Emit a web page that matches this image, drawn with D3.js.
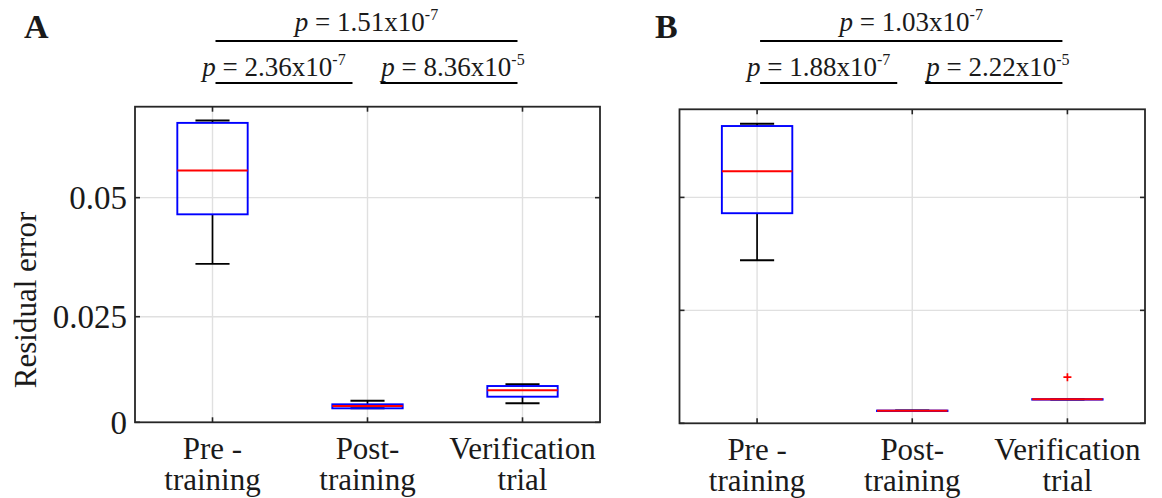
<!DOCTYPE html>
<html>
<head>
<meta charset="utf-8">
<script src="https://cdn.jsdelivr.net/npm/d3@7"></script>
<style>
  body { margin: 0; background: #fff; }
  text { font-family: "Liberation Serif", "Times New Roman", serif; fill: #1a1a1a; }
</style>
</head>
<body>
<svg id="chart" width="1162" height="498"></svg>
<script>
// categories, two lines each
var categories = [["Pre -", "training"], ["Post-", "training"], ["Verification", "trial"]];

// box stats per group: [lower whisker, q1, median, q3, upper whisker]
var statsA = [
  [0.0361, 0.0465, 0.0557, 0.0657, 0.0662],
  [0.00331, 0.00331, 0.00386, 0.00426, 0.00511],
  [0.0045, 0.00606, 0.00758, 0.00859, 0.0090]
];
var statsB = [
  [0.0361, 0.0465, 0.0558, 0.0658, 0.0663],
  [0.00276, 0.00276, 0.00279, 0.00282, 0.00282],
  [0.00527, 0.00527, 0.00531, 0.00535, 0.00535]
];
var outliersA = [[], [], []];
var outliersB = [[], [], [0.0102]];

var yTicks = [0, 0.025, 0.05];
var yTickLabels = ["0", "0.025", "0.05"];

// significance brackets: group index from, to, mantissa, exponent
var pairsA = [[0, 2, "1.51", "-7"], [0, 1, "2.36", "-7"], [1, 2, "8.36", "-5"]];
var pairsB = [[0, 2, "1.03", "-7"], [0, 1, "1.88", "-7"], [1, 2, "2.22", "-5"]];

var svg = d3.select("#chart");
var frameColor = "#262626";
var gridColor = "#e0e0e0";

function drawPanel(opt) {
  var w = opt.width, h = opt.height;
  var x = d3.scaleLinear().domain([0.5, 3.5]).range([0, w]);
  var y = opt.y;
  var g = svg.append("g").attr("transform", "translate(" + opt.left + "," + opt.top + ")");

  // grid
  g.selectAll(".vgrid").data(categories).enter().append("line")
    .attr("x1", function(d, i) { return x(i + 1); }).attr("x2", function(d, i) { return x(i + 1); })
    .attr("y1", 0).attr("y2", h)
    .attr("stroke", gridColor).attr("stroke-width", 1.4);
  g.selectAll(".hgrid").data(yTicks.slice(1)).enter().append("line")
    .attr("x1", 0).attr("x2", w)
    .attr("y1", function(d) { return y(d); }).attr("y2", function(d) { return y(d); })
    .attr("stroke", gridColor).attr("stroke-width", 1.4);

  // boxes
  var bw = 0.227, cw = 0.11;
  var stats = opt.stats;
  var boxes = g.selectAll(".box").data(stats).enter().append("g");
  boxes.append("line")
    .attr("x1", function(d, i) { return x(i + 1); }).attr("x2", function(d, i) { return x(i + 1); })
    .attr("y1", function(d) { return y(d[0]); }).attr("y2", function(d) { return y(d[1]); })
    .attr("stroke", "#000").attr("stroke-width", 1.7);
  boxes.append("line")
    .attr("x1", function(d, i) { return x(i + 1); }).attr("x2", function(d, i) { return x(i + 1); })
    .attr("y1", function(d) { return y(d[3]); }).attr("y2", function(d) { return y(d[4]); })
    .attr("stroke", "#000").attr("stroke-width", 1.7);
  [0, 4].forEach(function(k) {
    boxes.append("line")
      .attr("x1", function(d, i) { return x(i + 1 - cw); }).attr("x2", function(d, i) { return x(i + 1 + cw); })
      .attr("y1", function(d) { return y(d[k]); }).attr("y2", function(d) { return y(d[k]); })
      .attr("stroke", "#000").attr("stroke-width", 1.9);
  });
  boxes.append("rect")
    .attr("x", function(d, i) { return x(i + 1 - bw); })
    .attr("width", x(1 + bw) - x(1 - bw))
    .attr("y", function(d) { return y(d[3]); })
    .attr("height", function(d) { return Math.max(0.5, y(d[1]) - y(d[3])); })
    .attr("fill", "none").attr("stroke", "#0000ff").attr("stroke-width", 1.9);
  boxes.append("line")
    .attr("x1", function(d, i) { return x(i + 1 - bw); }).attr("x2", function(d, i) { return x(i + 1 + bw); })
    .attr("y1", function(d) { return y(d[2]); }).attr("y2", function(d) { return y(d[2]); })
    .attr("stroke", "#ff0000").attr("stroke-width", 1.9);

  // outliers
  opt.outliers.forEach(function(list, i) {
    list.forEach(function(v) {
      g.append("path")
        .attr("d", "M" + (x(i + 1) - 4) + "," + y(v) + "h8M" + x(i + 1) + "," + (y(v) - 4) + "v8")
        .attr("stroke", "#ff0000").attr("stroke-width", 1.7);
    });
  });

  // ticks inward on all sides
  var tl = 5;
  categories.forEach(function(c, i) {
    g.append("line").attr("x1", x(i + 1)).attr("x2", x(i + 1)).attr("y1", h).attr("y2", h - tl)
      .attr("stroke", frameColor).attr("stroke-width", 1.6);
    g.append("line").attr("x1", x(i + 1)).attr("x2", x(i + 1)).attr("y1", 0).attr("y2", tl)
      .attr("stroke", frameColor).attr("stroke-width", 1.6);
  });
  yTicks.forEach(function(t) {
    g.append("line").attr("x1", 0).attr("x2", tl).attr("y1", y(t)).attr("y2", y(t))
      .attr("stroke", frameColor).attr("stroke-width", 1.6);
    g.append("line").attr("x1", w).attr("x2", w - tl).attr("y1", y(t)).attr("y2", y(t))
      .attr("stroke", frameColor).attr("stroke-width", 1.6);
  });

  // frame
  g.append("rect").attr("width", w).attr("height", h)
    .attr("fill", "none").attr("stroke", frameColor).attr("stroke-width", 1.8);

  // y tick labels
  if (opt.yLabels) {
    yTicks.forEach(function(t, i) {
      g.append("text").attr("x", -8).attr("y", y(t)).attr("dy", "0.35em")
        .attr("text-anchor", "end").style("font-size", "33px").text(yTickLabels[i]);
    });
    g.append("text")
      .attr("transform", "translate(" + (36 - opt.left) + "," + (300 - opt.top) + ") rotate(-90)")
      .attr("text-anchor", "middle").style("font-size", "31px").text("Residual error");
  }

  // x labels
  categories.forEach(function(c, i) {
    g.append("text").attr("text-anchor", "middle").style("font-size", "31px")
      .attr("x", x(i + 1)).attr("y", h + 37).text(c[0]);
    g.append("text").attr("text-anchor", "middle").style("font-size", "31px")
      .attr("x", x(i + 1)).attr("y", h + 68).text(c[1]);
  });

  // significance brackets
  opt.pairs.forEach(function(p, k) {
    var x1 = x(p[0] + 1) + (p[0] === 0 ? 3 : 13);
    var x2 = x(p[1] + 1) - (p[1] === 2 ? 5 : 15);
    var ly = k === 0 ? 41 - opt.top : 83 - opt.top;
    g.append("line").attr("x1", x1).attr("x2", x2).attr("y1", ly).attr("y2", ly)
      .attr("stroke", "#000").attr("stroke-width", 2);
    var shift = k === 0 ? 0 : (p[0] === 0 ? -10 : 4);
    var t = g.append("text").attr("text-anchor", "middle").style("font-size", "27px")
      .attr("x", (x1 + x2) / 2 + shift).attr("y", ly - (k === 0 ? 10 : 7));
    t.append("tspan").style("font-style", "italic").text("p");
    t.append("tspan").text(" = " + p[2] + "x10");
    t.append("tspan").attr("dy", "-11").style("font-size", "16px").text(p[3]);
  });

  svg.append("text").attr("x", opt.letterX).attr("y", 38)
    .style("font-size", "34px").style("font-weight", "bold").text(opt.letter);
}

var hA = 315.6;
drawPanel({
  left: 135, top: 106.7, width: 465, height: hA,
  y: d3.scaleLinear().domain([0, 0.025, 0.0691]).range([hA, 210, 0]),
  stats: statsA, outliers: outliersA, pairs: pairsA,
  yLabels: true, letter: "A", letterX: 24
});
var hB = 314;
drawPanel({
  left: 679.5, top: 109.3, width: 465.5, height: hB,
  y: d3.scaleLinear().domain([0, 0.0695]).range([hB, 0]),
  stats: statsB, outliers: outliersB, pairs: pairsB,
  yLabels: false, letter: "B", letterX: 655
});
</script>
</body>
</html>
